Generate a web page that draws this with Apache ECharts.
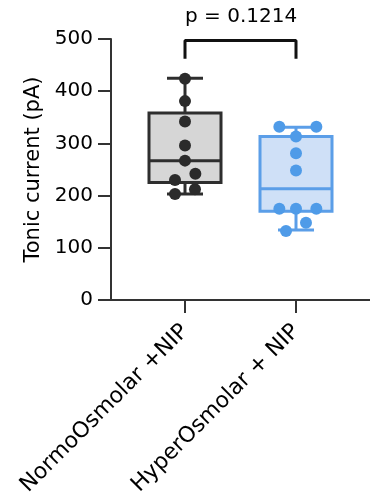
<!DOCTYPE html>
<html>
<head>
<meta charset="utf-8">
<script src="https://cdn.jsdelivr.net/npm/echarts@6/dist/echarts.min.js"></script>
<style>
  html, body { margin: 0; padding: 0; background: #fff; }
  #chart { width: 370px; height: 500px; }
</style>
</head>
<body>
<div id="chart"></div>
<script>
// 组名和x位置
const groups = ["NormoOsmolar +NIP", "HyperOsmolar + NIP"];
const groupX = [2, 5];
// 箱线图 [min, Q1, median, Q3, max]
const normoBox = [203, 225, 267, 358, 425];
const hyperBox = [134, 170, 213, 313, 331];
// 散点 (x 位置带抖动, y 值)
const normoX = [2, 2, 2, 2, 2, 2.28, 1.73, 2.27, 1.73];
const normoY = [424, 381, 342, 296, 267, 242, 230, 212, 203];
const hyperX = [4.55, 5.55, 5, 5, 5, 4.55, 5, 5.55, 5.27, 4.73];
const hyperY = [332, 332, 313, 281, 248, 175, 175, 175, 148, 132];
// 显著性标注
const bracketX = [2, 2, 5, 5];
const bracketY = [462, 497, 497, 462];
const pText = "p = 0.1214";

const font = "DejaVu Sans";
const axisColor = "#333333";
const textColor = "#000";

// 自绘箱线图
function boxItem(fill, stroke) {
  return function (params, api) {
    const x = api.value(0);
    const pMin = api.coord([x, api.value(1)]);
    const pQ1 = api.coord([x, api.value(2)]);
    const pMed = api.coord([x, api.value(3)]);
    const pQ3 = api.coord([x, api.value(4)]);
    const pMax = api.coord([x, api.value(5)]);
    const half = 36;
    const cap = 18;
    const cx = pMed[0];
    const ls = { stroke: stroke, lineWidth: 3 };
    return {
      type: "group",
      children: [
        { type: "line", shape: { x1: cx, y1: pQ3[1], x2: cx, y2: pMax[1] }, style: ls },
        { type: "line", shape: { x1: cx, y1: pQ1[1], x2: cx, y2: pMin[1] }, style: ls },
        { type: "line", shape: { x1: cx - cap, y1: pMax[1], x2: cx + cap, y2: pMax[1] }, style: ls },
        { type: "line", shape: { x1: cx - cap, y1: pMin[1], x2: cx + cap, y2: pMin[1] }, style: ls },
        {
          type: "rect",
          shape: { x: cx - half, y: pQ3[1], width: half * 2, height: pQ1[1] - pQ3[1] },
          style: { fill: fill, stroke: stroke, lineWidth: 3 },
        },
        { type: "line", shape: { x1: cx - half, y1: pMed[1], x2: cx + half, y2: pMed[1] }, style: ls },
      ],
    };
  };
}

const chart = echarts.init(document.getElementById("chart"));
chart.setOption({
  animation: false,
  grid: { left: 111, right: 0, top: 39, bottom: 200 },
  xAxis: {
    type: "value",
    min: 0,
    max: 7,
    interval: 1,
    splitLine: { show: false },
    axisLine: { show: true, lineStyle: { color: axisColor, width: 2 } },
    axisTick: {
      show: true,
      length: 13,
      customValues: groupX,
      lineStyle: { color: axisColor, width: 2 },
    },
    axisLabel: {
      customValues: groupX,
      rotate: 45,
      margin: 28,
      fontFamily: font,
      fontSize: 22,
      color: textColor,
      formatter: (v) => groups[groupX.indexOf(v)] || "",
    },
  },
  yAxis: {
    type: "value",
    min: 0,
    max: 500,
    interval: 100,
    name: "Tonic current (pA)",
    nameLocation: "middle",
    nameGap: 66,
    nameTextStyle: { fontFamily: font, fontSize: 21, color: textColor },
    splitLine: { show: false },
    axisLine: { show: true, lineStyle: { color: axisColor, width: 2 } },
    axisTick: { show: true, length: 13, lineStyle: { color: axisColor, width: 2 } },
    axisLabel: { margin: 18, fontFamily: font, fontSize: 20, color: textColor },
  },
  graphic: [
    {
      type: "text",
      left: 185,
      top: 7,
      style: { text: pText, font: "20px DejaVu Sans", fill: textColor },
    },
  ],
  series: [
    {
      type: "custom",
      renderItem: boxItem("#d6d6d6", "#2e2e2e"),
      data: [[groupX[0]].concat(normoBox)],
      encode: { x: 0, y: [1, 2, 3, 4, 5] },
      z: 2,
    },
    {
      type: "custom",
      renderItem: boxItem("#cfe0f7", "#5b9ee8"),
      data: [[groupX[1]].concat(hyperBox)],
      encode: { x: 0, y: [1, 2, 3, 4, 5] },
      z: 2,
    },
    {
      type: "scatter",
      symbolSize: 12,
      data: normoX.map((x, i) => [x, normoY[i]]),
      itemStyle: { color: "#2b2b2b", opacity: 1 },
      z: 3,
    },
    {
      type: "scatter",
      symbolSize: 12,
      data: hyperX.map((x, i) => [x, hyperY[i]]),
      itemStyle: { color: "#4f9be8", opacity: 1 },
      z: 3,
    },
    {
      type: "line",
      data: bracketX.map((x, i) => [x, bracketY[i]]),
      symbol: "none",
      clip: false,
      lineStyle: { color: "#111", width: 3 },
      z: 4,
    },
  ],
});
</script>
</body>
</html>
